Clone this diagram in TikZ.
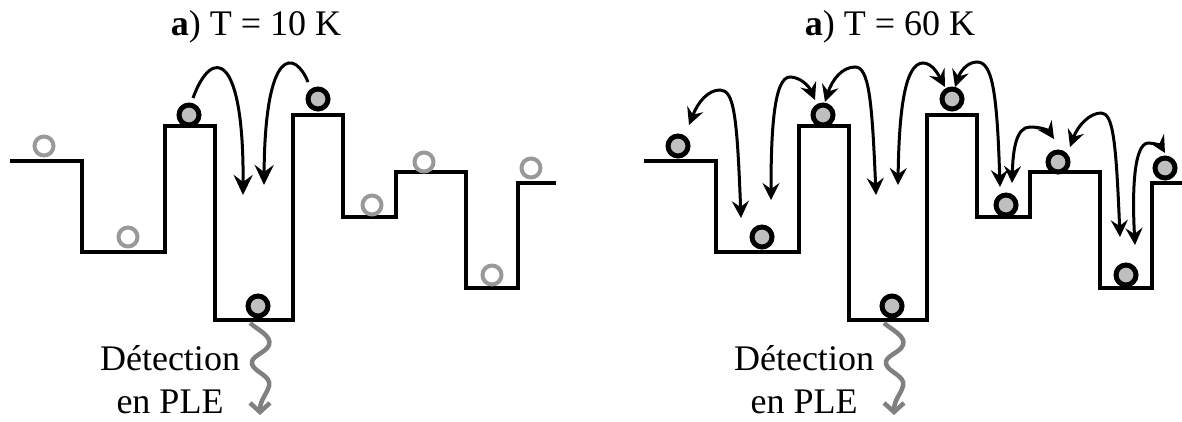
\documentclass[tikz,border=0pt]{standalone}
\usepackage{fontspec}
\setmainfont{Liberation Serif}
\usetikzlibrary{arrows.meta}

\tikzset{
  niveau/.style={line width=4.3pt, line join=miter},
  trou/.style={circle, draw=black!40, line width=4pt, minimum size=19pt, inner sep=0pt},
  exciton/.style={circle, draw=black, fill=gray!50, line width=5pt, minimum size=20pt, inner sep=0pt},
  saut/.style={line width=3pt, -{Stealth[length=20pt,width=19pt,inset=7pt]}},
  sautdbl/.style={line width=3pt,
    {Stealth[length=17pt,width=17pt,inset=6pt]}-{Stealth[length=17pt,width=17pt,inset=6pt]}},
  emission/.style={draw=gray, line width=4.5pt, -{Straight Barb[length=9pt,width=20pt]}},
  texte/.style={font=\fontsize{36}{40}\selectfont, anchor=base, inner sep=0pt},
}

\begin{document}
\begin{tikzpicture}[x=1pt, y=-1pt]
	\useasboundingbox (0,0) rectangle (1182,421);
	% titres
	\node[texte] (titreA) at (256,35) {\textbf{a}) T = 10 K};
	\node[texte] (titreB) at (890,35) {\textbf{a}) T = 60 K};
	% T = 10 K
	\begin{scope}
		\draw[niveau] (10,161) -| (82,252) -| (165,126) -| (215,320) -| (293,115)
			-| (343,217) -| (396,172) -| (466,288) -| (518,183) -- (556,183);
		\foreach \i/\x/\y in {1/44/146, 2/128/237, 6/372/205, 7/424/162, 8/492/275, 9/531/168}
			\node[trou] (l\i) at (\x,\y) {};
		\foreach \i/\x/\y in {3/189/115, 4/258/306, 5/318/99}
			\node[exciton] (l\i) at (\x,\y) {};
		% emission
		\coordinate (wA) at (250,323);
		\coordinate (wAf) at (260,415);
		\draw[emission] (wA) .. controls (258,330) and (272,336) .. (269,345)
			.. controls (266,353) and (250,356) .. (252,364)
			.. controls (254,372) and (272,376) .. (269,386)
			.. controls (267,394) and (260,400) .. (wAf);
		\node[texte] (detA) at (170,370) {Détection};
		\node[texte] (pleA) at (170,413) {en PLE};
	\end{scope}
	% sauts a 10 K
	\coordinate (s1) at (193,98);  \coordinate (s1f) at (243,195);
	\coordinate (s2) at (308,82);  \coordinate (s2f) at (264,185);
	\draw[saut] (s1) .. controls (212,46) and (244,52) .. (s1f);
	\draw[saut] (s2) .. controls (295,50) and (265,45) .. (s2f);
	% T = 60 K
	\begin{scope}[xshift=634pt]
		\draw[niveau] (10,161) -| (82,252) -| (165,126) -| (215,320) -| (293,115)
			-| (343,217) -| (396,172) -| (466,288) -| (518,183) -- (556,183);
		\foreach \i/\x/\y in {1/44/146, 2/128/237, 3/189/115, 4/258/306, 5/318/99,
				6/372/205, 7/424/162, 8/492/275, 9/531/168}
			\node[exciton] (r\i) at (\x,\y) {};
		% emission
		\coordinate (wB) at (250,323);
		\coordinate (wBf) at (260,415);
		\draw[emission] (wB) .. controls (258,330) and (272,336) .. (269,345)
			.. controls (266,353) and (250,356) .. (252,364)
			.. controls (254,372) and (272,376) .. (269,386)
			.. controls (267,394) and (260,400) .. (wBf);
		\node[texte] (detB) at (170,370) {Détection};
		\node[texte] (pleB) at (170,413) {en PLE};
	\end{scope}
	% sauts a 60 K
	\foreach \n/\x/\y in {a1/689/125, a1f/741/218, a2/771/200, a2f/815/100,
			a3/825/102, a3f/876/195, a4/898/185, a4f/945/87,
			a5/955/87, a5f/1000/187, a6/1012/183, a6f/1054/139,
			a7/1070/147, a7f/1120/237, a8/1135/245, a8f/1165/153}
		\coordinate (\n) at (\x,\y);
	\draw[sautdbl] (a1) .. controls (698,102) and (708,90) .. (720,90)
		.. controls (734,90) and (737,115) .. (a1f);
	\draw[sautdbl] (a2) .. controls (771,130) and (774,77) .. (790,77)
		.. controls (800,77) and (809,86) .. (a2f);
	\draw[sautdbl] (a3) .. controls (832,80) and (842,67) .. (855,67)
		.. controls (869,67) and (872,100) .. (a3f);
	\draw[sautdbl] (a4) .. controls (899,110) and (905,63) .. (923,63)
		.. controls (932,63) and (938,74) .. (a4f);
	\draw[sautdbl] (a5) .. controls (960,72) and (967,62) .. (977,62)
		.. controls (992,62) and (997,90) .. (a5f);
	\draw[sautdbl] (a6) .. controls (1013,150) and (1016,127) .. (1030,127)
		.. controls (1040,127) and (1048,130) .. (a6f);
	\draw[sautdbl] (a7) .. controls (1078,125) and (1090,113) .. (1101,113)
		.. controls (1113,113) and (1116,140) .. (a7f);
	\draw[sautdbl] (a8) .. controls (1132,190) and (1134,144) .. (1148,143)
		.. controls (1155,143) and (1161,146) .. (a8f);
\end{tikzpicture}
\end{document}
